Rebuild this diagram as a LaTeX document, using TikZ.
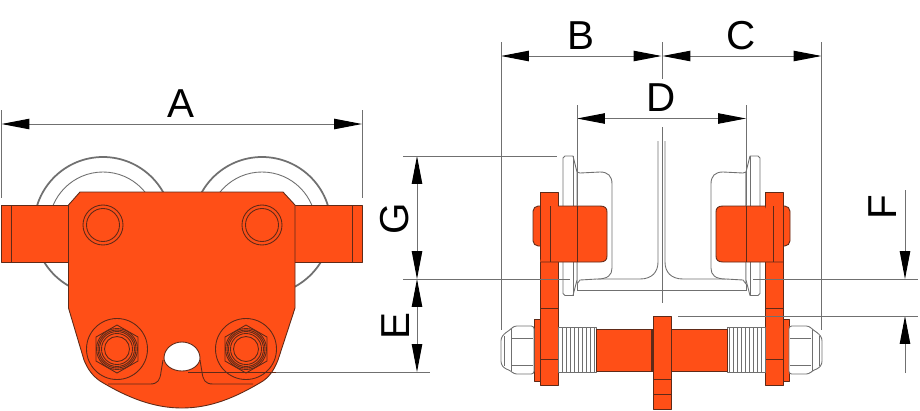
\documentclass[tikz,border=0pt]{standalone}
\usepackage{fontspec}
\setmainfont{Liberation Sans}
\usetikzlibrary{arrows.meta}
\definecolor{trolley}{HTML}{FF4F17}
\definecolor{edge}{HTML}{5E2A18}
\definecolor{wire}{HTML}{707070}
\tikzstyle{part} = [draw=edge, fill=trolley, line width=0.5pt, line join=round]
\tikzstyle{partline} = [draw=edge, line width=0.5pt]
\tikzstyle{steel} = [draw=wire, fill=white, line width=0.5pt, line join=round]
\tikzstyle{steelline} = [draw=wire, line width=0.5pt]
\tikzstyle{rim} = [draw=wire, fill=white, line width=1pt]
\tikzstyle{extline} = [draw=wire, line width=0.55pt]
\tikzstyle{arrow} = [draw=wire, line width=0.55pt, {Triangle[length=15.8pt,width=5.9pt,black]}-{Triangle[length=15.8pt,width=5.9pt,black]}]
\tikzstyle{onearrow} = [draw=wire, line width=0.55pt, -{Triangle[length=15.8pt,width=5.9pt,black]}]
\tikzstyle{letter} = [inner sep=0pt, font=\fontsize{23}{25}\selectfont]

\begin{document}
\begin{tikzpicture}[x=0.02cm,y=-0.02cm]
\useasboundingbox (0,0) rectangle (920,410);
% front view: wheels
\foreach \x in {103,262} {
\draw [rim] (\x,226) circle (69);
\begin{scope}
\clip (0,0) rectangle (920,205);
\draw [steelline] (\x,226) circle (54);
\end{scope}
}
% front view: axle ends
\draw [part] (1,205) rectangle (362,262);
\draw [partline] (11.5,205) -- (11.5,262);
\draw [partline] (352,205) -- (352,262);
% front view: side plate
\draw [part] (80,192) -- (283,192) -- (295,205) -- (295,308) -- (278,360)
  .. controls (274,370) and (270,376) .. (263,381)
  .. controls (235,398) and (210,408) .. (182,408)
  .. controls (154,408) and (128,398) .. (100,381)
  .. controls (93,376) and (88,370) .. (84,360)
  -- (68.5,308) -- (68.5,205) -- cycle;
\foreach \x in {103,262} {
\draw [partline] (\x,225) circle (20);
\draw [partline] (\x,225) circle (16.5);
}
\foreach \x in {117,246} {
\begin{scope}[shift={(\x,349)}]
\draw [partline] (0,0) circle (30.5);
\draw [partline] (0,-24) -- (21,-12) -- (21,12) -- (0,24) -- (-21,12) -- (-21,-12) -- cycle;
\foreach \r in {20.5,19,17.5,15.5,12.5} {
\draw [partline] (0,0) circle (\r);
}
\end{scope}
}
\draw [partline] (108,384) -- (150,384) .. controls (158,384) and (160,380) .. (161,372) -- (163,360);
\draw [partline] (253,384) -- (213,384) .. controls (205,384) and (203,380) .. (202,372) -- (200,360);
\draw [partline, fill=white] (164,358) .. controls (164,349.2) and (172.1,342) .. (182,342)
  .. controls (191.9,342) and (200,349.2) .. (200,358)
  .. controls (200,365) and (191.9,371) .. (182,371)
  .. controls (172.1,371) and (164,365) .. (164,358) -- cycle;
%
% side view: parts drawn for the left side, then mirrored
\foreach \m/\o in {1/0,-1/1323} {
\begin{scope}[xshift=\o*0.02cm, xscale=\m]
\draw [steelline] (658,141) -- (658,262) .. controls (658,272) and (652,279) .. (640,279) -- (597,279);
\draw [steelline] (577,284) -- (577,290) -- (661.5,290);
\draw [steel] (577,172) -- (580,173) -- (600,172) .. controls (608,172) and (612,176) .. (612,184)
  -- (612,268) .. controls (612,275) and (608,279) .. (597,279) -- (580,280) -- (577,284) -- cycle;
\draw [steel] (565,156) -- (573,156) -- (577,172) -- (577,280) -- (573,295.5) -- (565,295.5)
  -- (563,293.5) -- (563,158) -- cycle;
\draw [steelline] (573,156) -- (573,295.5);
\draw [part, rounded corners=3pt] (540,206) -- (533,206) -- (533,246) -- (540,246);
\draw [part] (540,192) rectangle (558,385);
\draw [part] (558,206) -- (600,206) .. controls (605,206) and (607,208) .. (607,212)
  -- (607,256) .. controls (607,260) and (605,262) .. (600,262) -- (540,262);
\draw [partline] (550,206) -- (550,262);
\draw [partline] (540,308) -- (558,308);
\draw [partline] (540,359) -- (558,359);
\draw [part] (534,319) rectangle (540,381);
% nut
\draw [steel, rounded corners=1.5pt] (534,326) -- (514,326) -- (511,329) -- (504,334) -- (501,338)
  -- (501,364) -- (504,368) -- (511,371) -- (514,374) -- (534,374) -- cycle;
\draw [steelline] (511,329) -- (511,371);
\draw [steelline] (504,336) -- (504,366);
\draw [steelline] (512,338) -- (533,338);
\draw [steelline] (512,365) -- (533,365);
% thread and shaft
\draw [steel] (558,327) rectangle (596,372);
\foreach \x in {562,566,...,594} {
\draw [steelline] (\x,327) -- (\x,372);
}
\draw [part] (596,329) rectangle (653,371);
\draw [partline, line width=1.2pt] (652.5,329) -- (652.5,371);
\end{scope}
}
% side view: centre plate
\draw [part] (653,316) rectangle (671,409);
\draw [partline] (653,379) -- (671,379);
\draw [partline] (653,394) -- (671,394);
\draw [partline] (577,206) -- (577,262);
\draw [partline] (746,206) -- (746,262);
%
% measures
\coordinate (a_left) at (1.5,124);
\coordinate (a_right) at (362,124);
\coordinate (b_left) at (501,56);
\coordinate (b_right) at (661.5,56);
\coordinate (c_left) at (662.5,56);
\coordinate (c_right) at (821.5,56);
\coordinate (d_left) at (577,118.5);
\coordinate (d_right) at (746,118.5);
\coordinate (g_top) at (417,156);
\coordinate (g_bottom) at (417,279);
\coordinate (e_top) at (417,279);
\coordinate (e_bottom) at (417,372);
\coordinate (f_from) at (905,190);
\coordinate (f_top) at (905,279);
\coordinate (f_under) at (905,373);
\coordinate (f_bottom) at (905,316);
\draw [arrow] (a_left) -- (a_right);
\draw [arrow] (b_left) -- (b_right);
\draw [arrow] (c_left) -- (c_right);
\draw [arrow] (d_left) -- (d_right);
\draw [arrow] (g_top) -- (g_bottom);
\draw [arrow] (e_top) -- (e_bottom);
\draw [onearrow] (f_from) -- (f_top);
\draw [onearrow] (f_under) -- (f_bottom);
% extension lines
\draw [extline] (1.5,110) -- (1.5,198);
\draw [extline] (362,110) -- (362,198);
\draw [extline] (501,42) -- (501,330);
\draw [extline] (821.5,42) -- (821.5,330);
\draw [extline] (662,42) -- (662,79);
\draw [extline] (662,127) -- (662,303);
\draw [extline] (577,105) -- (577,206);
\draw [extline] (746,105) -- (746,206);
\draw [extline] (403,156) -- (557,156);
\draw [extline] (403,279) -- (570,279);
\draw [extline] (753,279) -- (918,279);
\draw [extline] (678,316) -- (918,316);
\draw [partline] (188,372) -- (276,372);
\draw [extline] (276,372) -- (430,372);
%
\node (label_a) [letter] at (181,103.5) {A};
\node (label_b) [letter] at (581,35.5) {B};
\node (label_c) [letter] at (741,35.5) {C};
\node (label_d) [letter] at (661.5,97.5) {D};
\node (label_g) [letter, rotate=90] at (395,218.5) {G};
\node (label_e) [letter, rotate=90] at (395.5,326) {E};
\node (label_f) [letter, rotate=90] at (882.5,207) {F};
\end{tikzpicture}
\end{document}
